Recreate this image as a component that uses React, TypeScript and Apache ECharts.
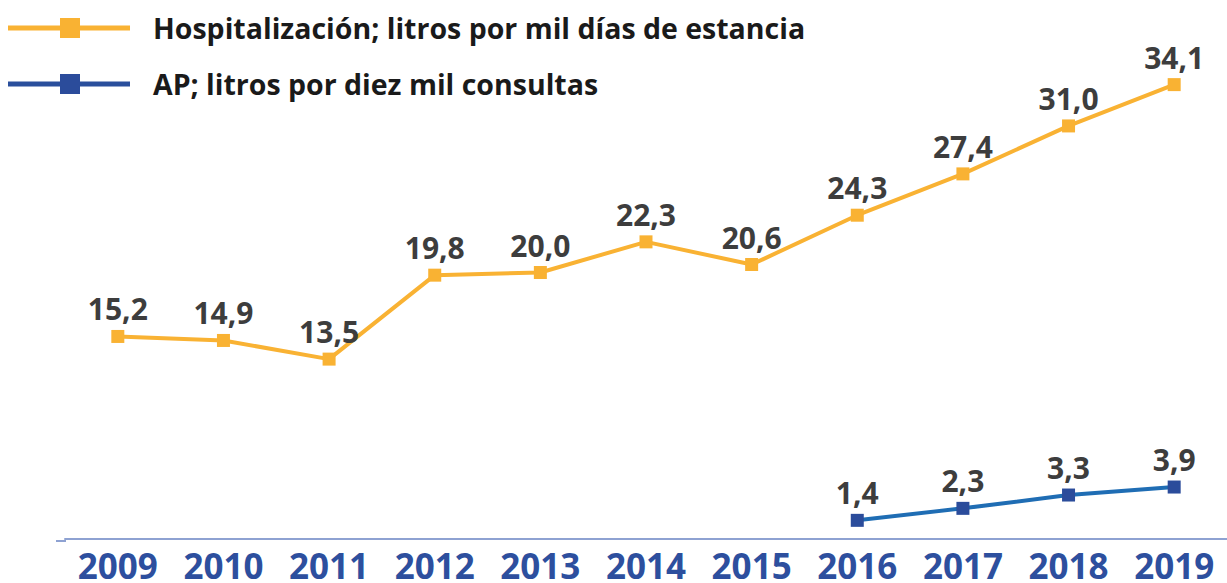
import React, { useEffect, useRef } from "react";
import * as echarts from "echarts";

const years = ["2009", "2010", "2011", "2012", "2013", "2014", "2015", "2016", "2017", "2018", "2019"];
const hospital = [15.2, 14.9, 13.5, 19.8, 20.0, 22.3, 20.6, 24.3, 27.4, 31.0, 34.1];
const ap = [null, null, null, null, null, null, null, 1.4, 2.3, 3.3, 3.9];
const seriesNames = ["Hospitalización; litros por mil días de estancia", "AP; litros por diez mil consultas"];

const FONT = "Open Sans";
const ORANGE = "#f9b233";
const BLUE_LINE = "#1f6db4";
const BLUE_MARK = "#2b4c9b";

export default function App() {
  const ref = useRef<HTMLDivElement>(null);
  useEffect(() => {
    const chart = echarts.init(ref.current!, null, { renderer: "svg" });
    const fmt = (p: any) => (p.value == null ? "" : Number(p.value).toFixed(1).replace(".", ","));
    const legendItem = (y: number, lineColor: string, markColor: string, text: string) => [
      { type: "line", shape: { x1: 8, y1: y, x2: 130, y2: y }, style: { stroke: lineColor, lineWidth: 5 } },
      { type: "rect", shape: { x: 60, y: y - 10, width: 20, height: 20 }, style: { fill: markColor } },
      {
        type: "text",
        x: 153,
        y: y,
        style: { text, fontFamily: FONT, fontWeight: "bold", fontSize: 28.5, fill: "#1a1a1a", verticalAlign: "middle", align: "left" },
      },
    ];
    const labelStyle = { show: true, position: "top", distance: 6, formatter: fmt, fontFamily: FONT, fontWeight: "bold", fontSize: 30, lineHeight: 30, color: "#3d3d3d" };
    chart.setOption({
      animation: false,
      backgroundColor: "#ffffff",
      grid: { left: 65, right: 0, top: 6, height: 535 },
      xAxis: {
        type: "category",
        data: years,
        boundaryGap: true,
        axisLine: { show: true, lineStyle: { color: "#8ea2d2", width: 2 } },
        axisTick: { show: false },
        axisLabel: { interval: 0, fontFamily: FONT, fontWeight: "bold", fontSize: 35, lineHeight: 30, color: "#2d4f9e", margin: 11.5 },
      },
      yAxis: { type: "value", min: 0, max: 40, show: false, splitLine: { show: false } },
      graphic: [
        { type: "line", shape: { x1: 56, y1: 541, x2: 66, y2: 541 }, style: { stroke: "#8ea2d2", lineWidth: 2 } },
        ...legendItem(28, ORANGE, ORANGE, seriesNames[0]),
        ...legendItem(84, "#2a4f9c", BLUE_MARK, seriesNames[1]),
      ],
      series: [
        {
          name: seriesNames[0],
          type: "line",
          data: hospital,
          symbol: "rect",
          symbolSize: 13,
          lineStyle: { color: ORANGE, width: 4 },
          itemStyle: { color: ORANGE },
          label: labelStyle,
        },
        {
          name: seriesNames[1],
          type: "line",
          data: ap,
          symbol: "rect",
          symbolSize: 13,
          lineStyle: { color: BLUE_LINE, width: 4 },
          itemStyle: { color: BLUE_MARK },
          label: labelStyle,
        },
      ],
    });
    return () => chart.dispose();
  }, []);
  return <div ref={ref} style={{ position: "fixed", left: 0, top: 0, width: 1227, height: 583 }} />;
}
